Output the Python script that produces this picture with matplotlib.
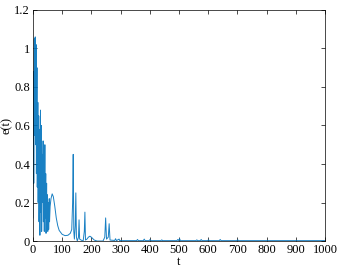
import matplotlib
matplotlib.use("Agg")
import matplotlib.pyplot as plt

plt.rcParams['font.family'] = ['Liberation Serif', 'DejaVu Serif']

# error curve e(t)
t = [0, 2, 3, 5, 6, 8, 9, 11, 12, 14, 15, 17, 18, 20, 21, 23, 24, 26, 27, 29,
     30, 32, 33, 35, 36, 38, 39, 41, 42, 44, 45, 47, 48, 50, 51, 53, 54, 56, 57, 59,
     62, 66, 70, 75, 80, 85, 90, 100, 110, 120, 128, 133, 136, 138, 140, 142, 145,
     147, 149, 152, 156, 158, 160, 165, 172, 176, 178, 180, 185, 190, 195, 200,
     210, 220, 240, 246, 249, 252, 258, 261, 264, 280, 283, 286, 295, 298, 300,
     355, 358, 361, 378, 381, 384, 398, 401, 404, 438, 441, 444, 493, 496, 499,
     502, 505, 558, 561, 564, 573, 576, 579, 598, 601, 604, 638, 641, 644, 698,
     701, 704, 800, 900, 1000]
e = [0.12, 0.88, 0.3, 1.05, 0.55, 1.06, 0.5, 1.02, 0.35, 0.9, 0.28, 0.72, 0.2,
     0.65, 0.1, 0.58, 0.03, 0.68, 0.15, 0.6, 0.05, 0.45, 0.2, 0.52, 0.1, 0.4,
     0.05, 0.5, 0.12, 0.35, 0.04, 0.3, 0.08, 0.24, 0.05, 0.2, 0.06, 0.22, 0.1,
     0.18, 0.22, 0.245, 0.23, 0.18, 0.12, 0.08, 0.055, 0.035, 0.028, 0.03, 0.04,
     0.06, 0.2, 0.45, 0.05, 0.01, 0.08, 0.25, 0.02, 0.0, 0.02, 0.11, 0.01, 0.005,
     0.0, 0.05, 0.15, 0.005, 0.01, 0.02, 0.025, 0.02, 0.005, 0.0, 0.0, 0.02, 0.12,
     0.01, 0.02, 0.09, 0.005, 0.003, 0.012, 0.002, 0.01, 0.0, 0.002,
     0.002, 0.008, 0.002, 0.002, 0.01, 0.002, 0.002, 0.008, 0.002, 0.002, 0.006,
     0.002, 0.002, 0.008, 0.002, 0.012, 0.002, 0.002, 0.006, 0.002, 0.002, 0.008,
     0.002, 0.002, 0.006, 0.002, 0.002, 0.008, 0.002, 0.002, 0.006, 0.002,
     0.002, 0.002, 0.002]

xticks = [0, 100, 200, 300, 400, 500, 600, 700, 800, 900, 1000]
yticks = [0, 0.2, 0.4, 0.6, 0.8, 1.0, 1.2]
ylabels = ["0", "0.2", "0.4", "0.6", "0.8", "1", "1.2"]

fig = plt.figure(figsize=(3.39, 2.69), dpi=100)
ax = fig.add_axes([0.097, 0.104, 0.862, 0.859])
ax.plot(t, e, color='#0072BD', linewidth=0.7, alpha=0.9)
ax.set_xlim(0, 1000)
ax.set_ylim(0, 1.2)
ax.set_xticks(xticks)
ax.set_yticks(yticks)
ax.set_yticklabels(ylabels)
ax.tick_params(direction='in', top=True, right=True, labelsize=9, length=3, width=0.5, pad=2)
for s in ax.spines.values():
    s.set_linewidth(0.5)
ax.set_xlabel("t", fontsize=9, labelpad=0)
ax.set_ylabel("e(t)", fontsize=9, labelpad=1)
fig.savefig("out.png", dpi=100)
